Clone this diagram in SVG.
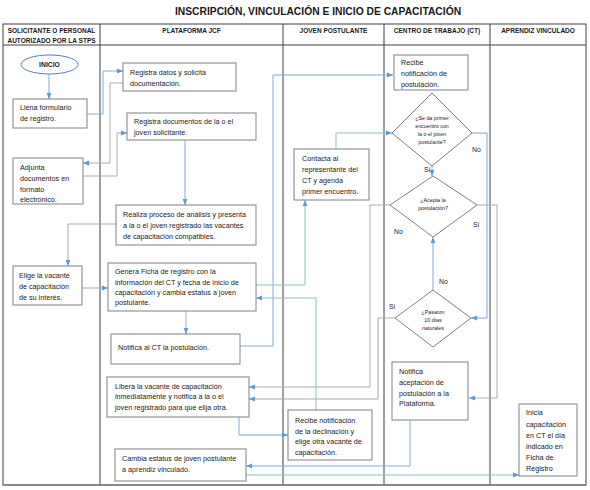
<svg xmlns="http://www.w3.org/2000/svg" width="590" height="490" viewBox="0 0 590 490">
<defs>
<marker id="ah" viewBox="0 0 10 10" refX="10" refY="5" markerWidth="6" markerHeight="6" markerUnits="userSpaceOnUse" orient="auto"><path d="M0,1 L10,5 L0,9 z" fill="#5B9BD5"/></marker>
<style>
.t{font-family:"Liberation Sans",Arial,sans-serif;font-size:7.2px;fill:#1a1a1a}
.d{font-family:"Liberation Sans",Arial,sans-serif;font-size:5.3px;fill:#1a1a1a;text-anchor:middle}
.l{font-family:"Liberation Sans",Arial,sans-serif;font-size:6.8px;fill:#1a1a1a}
.h{font-family:"Liberation Sans",Arial,sans-serif;font-size:6.5px;font-weight:bold;fill:#1a1a1a;text-anchor:middle}
.box{fill:#fff;stroke:#808080;stroke-width:1}
.lane{fill:none;stroke:#404040;stroke-width:1}
.c{fill:none;stroke-width:1;marker-end:url(#ah)}
.b{stroke:#7FA9DB}
.g{stroke:#AAAAAA}
.tl{stroke:#8CBFC8}
</style>
</defs>
<rect width="590" height="490" fill="#fff"/>
<text x="318" y="15" text-anchor="middle" font-family="Liberation Sans, Arial, sans-serif" font-size="10.3" font-weight="bold" fill="#1a1a1a">INSCRIPCIÓN, VINCULACIÓN E INICIO DE CAPACITACIÓN</text>
<g id="lanes">
<rect class="lane" x="3" y="24" width="583" height="461"/>
<line class="lane" x1="3" y1="45" x2="586" y2="45"/>
<line class="lane" x1="100" y1="24" x2="100" y2="485"/>
<line class="lane" x1="283" y1="24" x2="283" y2="485"/>
<line class="lane" x1="384" y1="24" x2="384" y2="485"/>
<line class="lane" x1="490" y1="24" x2="490" y2="485"/>
<line x1="3" y1="485" x2="586" y2="485" stroke="#808080" stroke-width="1.5"/>
<text class="h" x="51.5" y="33">SOLICITANTE O PERSONAL</text>
<text class="h" x="51.5" y="43">AUTORIZADO POR LA STPS</text>
<text class="h" x="191.5" y="33">PLATAFORMA JCF</text>
<text class="h" x="333.5" y="33">JOVEN POSTULANTE</text>
<text class="h" x="437" y="33">CENTRO DE TRABAJO (CT)</text>
<text class="h" x="538" y="33">APRENDIZ VINCULADO</text>
</g>
<g id="connectors">
<polyline class="c b" points="49,74 49,99"/>
<polyline class="c b" points="87,114 103,114 103,71 123,71"/>
<polyline class="c g" points="123,83 110,83 110,163 83,163"/>
<polyline class="c g" points="83,176 117,176 117,133 127,133"/>
<polyline class="c b" points="185,140 185,205"/>
<polyline class="c g" points="116,224 68,224 68,266"/>
<polyline class="c g" points="82,288 108,288"/>
<polyline class="c g" points="186,311 186,334"/>
<polyline class="c b" points="240,346 273,346 273,75 393,75"/>
<polyline class="c tl" points="256,285 305,285 305,200"/>
<polyline class="c tl" points="336,149 336,133 392,133"/>
<polyline class="c b" points="432,166 432,176"/>
<polyline class="c b" points="472,133 487,133 487,318 471,318"/>
<polyline class="c b" points="433,290 433,237"/>
<polyline class="c g" points="390,205 370,205 370,387 249,387"/>
<polyline class="c g" points="395,318 378,318 378,399 249,399"/>
<polyline class="c g" points="477,205 497,205 497,398 469,398"/>
<polyline class="c b" points="239,417 239,435 288,435"/>
<polyline class="c tl" points="316,410 316,298 256,298"/>
<polyline class="c b" points="410,420 410,466 246,466"/>
<polyline class="c tl" points="246,475 519,475"/>
<text class="l" x="424" y="172">Sí</text>
<text class="l" x="472" y="152">No</text>
<text class="l" x="394" y="234">No</text>
<text class="l" x="473" y="227">Sí</text>
<text class="l" x="439" y="284">No</text>
<text class="l" x="389" y="309">Sí</text>
</g>
<g id="inicio">
<ellipse cx="49.5" cy="64.5" rx="28.5" ry="9.5" fill="#fff" stroke="#4F81BD" stroke-width="1"/>
<text x="49.5" y="67" text-anchor="middle" font-family="Liberation Sans, Arial, sans-serif" font-size="6.8" font-weight="bold" fill="#1a1a1a">INICIO</text>
</g>
<g id="llena">
<rect class="box" x="13" y="99" width="74" height="29"/>
<text class="t" x="20" y="110">Llena formulario</text>
<text class="t" x="20" y="121">de registro.</text>
</g>
<g id="registra-datos">
<rect class="box" x="123" y="63" width="113" height="28"/>
<text class="t" x="130" y="75">Registra datos y solicita</text>
<text class="t" x="130" y="86">documentación.</text>
</g>
<g id="registra-docs">
<rect class="box" x="127" y="113" width="129" height="27"/>
<text class="t" x="134" y="124">Registra documentos de la o el</text>
<text class="t" x="134" y="135">joven solicitante.</text>
</g>
<g id="adjunta">
<rect class="box" x="13" y="158" width="70" height="46"/>
<text class="t" x="20" y="170">Adjunta</text>
<text class="t" x="20" y="181">documentos en</text>
<text class="t" x="20" y="192">formato</text>
<text class="t" x="20" y="202">electrónico.</text>
</g>
<g id="realiza">
<rect class="box" x="116" y="205" width="140" height="40"/>
<text class="t" x="123" y="217">Realiza proceso de análisis y presenta</text>
<text class="t" x="123" y="228">a la o el joven registrado las vacantes</text>
<text class="t" x="123" y="239">de capacitación compatibles.</text>
</g>
<g id="elige">
<rect class="box" x="13" y="266" width="69" height="39"/>
<text class="t" x="19" y="278">Elige la vacante</text>
<text class="t" x="19" y="289">de capacitación</text>
<text class="t" x="19" y="300">de su interés.</text>
</g>
<g id="genera">
<rect class="box" x="108" y="263" width="148" height="48"/>
<text class="t" x="115" y="274">Genera Ficha de registro con la</text>
<text class="t" x="115" y="285">información del CT y fecha de inicio de</text>
<text class="t" x="115" y="295">capacitación y cambia estatus a joven</text>
<text class="t" x="115" y="305">postulante.</text>
</g>
<g id="notifica-ct">
<rect class="box" x="111" y="334" width="129" height="30"/>
<text class="t" x="118" y="350">Notifica al CT la postulación.</text>
</g>
<g id="libera">
<rect class="box" x="107" y="377" width="142" height="40"/>
<text class="t" x="115" y="389">Libera la vacante de capacitación</text>
<text class="t" x="115" y="399">inmediatamente y notifica a la o el</text>
<text class="t" x="115" y="410">joven registrado para que elija otra.</text>
</g>
<g id="cambia">
<rect class="box" x="115" y="449" width="131" height="32"/>
<text class="t" x="122" y="461">Cambia estatus de joven postulante</text>
<text class="t" x="122" y="472">a aprendiz vinculado.</text>
</g>
<g id="contacta">
<rect class="box" x="294" y="149" width="75" height="51"/>
<text class="t" x="302" y="161">Contacta al</text>
<text class="t" x="302" y="172">representante del</text>
<text class="t" x="302" y="183">CT y agenda</text>
<text class="t" x="302" y="194">primer encuentro.</text>
</g>
<g id="declinacion">
<rect class="box" x="288" y="410" width="84" height="50"/>
<text class="t" x="295" y="423">Recibe notificación</text>
<text class="t" x="295" y="434">de la declinación y</text>
<text class="t" x="295" y="444">elige otra vacante de</text>
<text class="t" x="295" y="455">capacitación.</text>
</g>
<g id="recibe-ct">
<rect class="box" x="394" y="55" width="74" height="35"/>
<text class="t" x="401" y="65">Recibe</text>
<text class="t" x="401" y="76">notificación de</text>
<text class="t" x="401" y="87">postulación.</text>
</g>
<g id="d-encuentro">
<polygon class="box" points="432,93 472,133 432,166 392,133"/>
<text class="d" x="432" y="120">¿Se da primer</text>
<text class="d" x="432" y="128">encuentro con</text>
<text class="d" x="432" y="136">la o el joven</text>
<text class="d" x="432" y="144">postulante?</text>
</g>
<g id="d-acepta">
<polygon class="box" points="433,176 477,205 433,237 390,205"/>
<text class="d" x="433" y="202">¿Acepta la</text>
<text class="d" x="433" y="210">postulación?</text>
</g>
<g id="d-dias">
<polygon class="box" points="433,290 471,318 433,347 395,318"/>
<text class="d" x="433" y="314">¿Pasaron</text>
<text class="d" x="433" y="322">10 días</text>
<text class="d" x="433" y="330">naturales</text>
</g>
<g id="notifica-aceptacion">
<rect class="box" x="392" y="362" width="76" height="58"/>
<text class="t" x="399" y="374">Notifica</text>
<text class="t" x="399" y="385">aceptación de</text>
<text class="t" x="399" y="396">postulación a la</text>
<text class="t" x="399" y="406">Plataforma.</text>
</g>
<g id="inicia">
<rect class="box" x="519" y="404" width="58" height="72"/>
<text class="t" x="526" y="415">Inicia</text>
<text class="t" x="526" y="427">capacitación</text>
<text class="t" x="526" y="438">en CT el día</text>
<text class="t" x="526" y="449">indicado en</text>
<text class="t" x="526" y="460">Ficha de</text>
<text class="t" x="526" y="471">Registro</text>
</g>
</svg>
